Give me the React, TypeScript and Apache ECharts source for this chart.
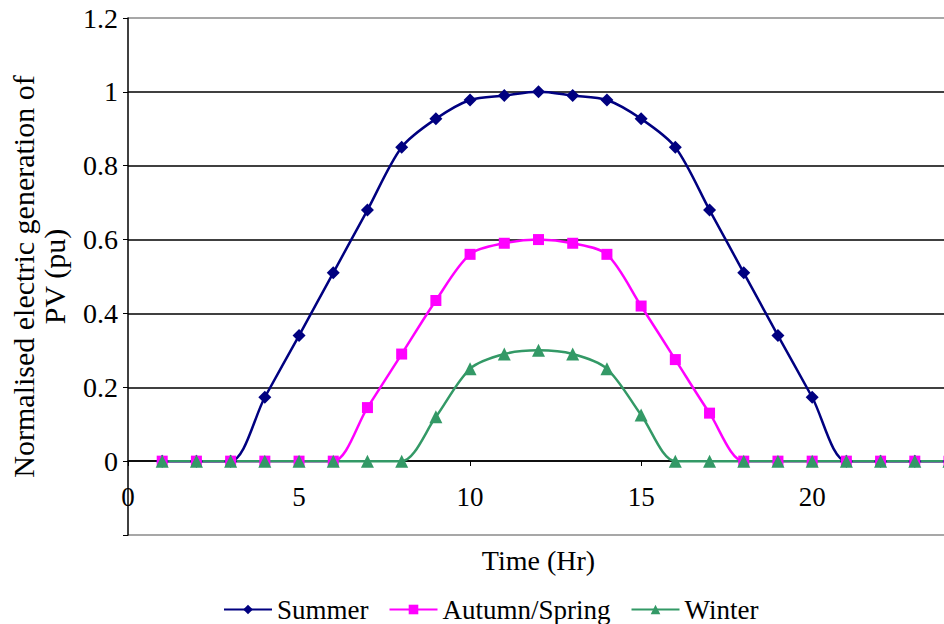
import React, { useEffect, useRef } from "react";
import * as echarts from "echarts";

const hours = [1, 2, 3, 4, 5, 6, 7, 8, 9, 10, 11, 12, 13, 14, 15, 16, 17, 18, 19, 20, 21, 22, 23, 24];
const summer = [0, 0, 0, 0.173, 0.34, 0.51, 0.68, 0.85, 0.927, 0.978, 0.99, 1.0, 0.99, 0.978, 0.927, 0.85, 0.68, 0.51, 0.34, 0.173, 0, 0, 0, 0];
const autumnSpring = [0, 0, 0, 0, 0, 0, 0.145, 0.29, 0.435, 0.56, 0.59, 0.6, 0.59, 0.56, 0.42, 0.275, 0.13, 0, 0, 0, 0, 0, 0, 0];
const winter = [0, 0, 0, 0, 0, 0, 0, 0, 0.12, 0.25, 0.29, 0.3, 0.29, 0.25, 0.125, 0, 0, 0, 0, 0, 0, 0, 0, 0];
const seriesNames = ["Summer", "Autumn/Spring", "Winter"];
const yTitle = "Normalised electric generation of\nPV (pu)";
const xTitle = "Time (Hr)";

const FONT = "Liberation Serif";

export default function App() {
  const ref = useRef<HTMLDivElement>(null);
  useEffect(() => {
    if (!ref.current) return;
    const chart = echarts.init(ref.current, undefined, { renderer: "svg" });
    const pair = (vals: number[]) => hours.map((h, i) => [h, vals[i]]);
    chart.setOption({
      animation: false,
      backgroundColor: "#ffffff",
      textStyle: { fontFamily: FONT, color: "#000" },
      grid: { left: 128, top: 18, bottom: 89, right: -5, containLabel: false, outerBoundsMode: "none" },
      legend: {
        data: seriesNames,
        top: 591,
        left: 218,
        itemWidth: 48,
        itemHeight: 12,
        itemGap: 20,
        textStyle: { fontFamily: FONT, fontSize: 27, color: "#000" },
      },
      xAxis: {
        type: "value",
        min: 0,
        max: 24,
        interval: 5,
        offset: -74,
        name: xTitle,
        nameLocation: "middle",
        nameGap: 85,
        nameTextStyle: { fontFamily: FONT, fontSize: 28, color: "#000" },
        axisLine: { show: true, onZero: false, lineStyle: { color: "#000", width: 1.5 } },
        axisTick: { show: true, length: 5, lineStyle: { color: "#000" } },
        axisLabel: { fontFamily: FONT, fontSize: 27, color: "#000", margin: 22, showMaxLabel: false },
        splitLine: { show: false },
      },
      yAxis: {
        type: "value",
        min: -0.2,
        max: 1.2,
        interval: 0.2,
        name: yTitle,
        nameLocation: "middle",
        nameRotate: 90,
        nameGap: 58,
        nameTextStyle: { fontFamily: FONT, fontSize: 30, color: "#000", lineHeight: 31 },
        axisLine: { show: true, onZero: false, lineStyle: { color: "#000", width: 1.5 } },
        axisTick: { show: true, length: 5, lineStyle: { color: "#000" } },
        axisLabel: {
          fontFamily: FONT,
          fontSize: 28,
          color: "#000",
          margin: 10,
          formatter: (v: number) => (v < -0.01 ? "" : String(Math.round(v * 10) / 10)),
        },
        splitLine: {
          show: true,
          lineStyle: {
            color: ["#8a8a8a", "#000", "#000", "#000", "#000", "#000", "#000", "#8a8a8a"],
            width: 1.5,
          },
        },
      },
      series: [
        {
          name: seriesNames[0],
          type: "line",
          data: pair(summer),
          smooth: 0.3,
          symbol: "diamond",
          symbolSize: 13,
          itemStyle: { color: "#000080" },
          lineStyle: { color: "#000080", width: 2.5 },
        },
        {
          name: seriesNames[1],
          type: "line",
          data: pair(autumnSpring),
          smooth: 0.3,
          symbol: "rect",
          symbolSize: 11,
          itemStyle: { color: "#ff00ff" },
          lineStyle: { color: "#ff00ff", width: 2.5 },
        },
        {
          name: seriesNames[2],
          type: "line",
          data: pair(winter),
          smooth: 0.3,
          symbol: "triangle",
          symbolSize: 13,
          itemStyle: { color: "#339966" },
          lineStyle: { color: "#339966", width: 2.5 },
        },
      ],
    });
    return () => chart.dispose();
  }, []);
  return (
    <div
      ref={ref}
      style={{ position: "fixed", left: 0, top: 0, width: 944, height: 624, overflow: "hidden", background: "#fff" }}
    />
  );
}
